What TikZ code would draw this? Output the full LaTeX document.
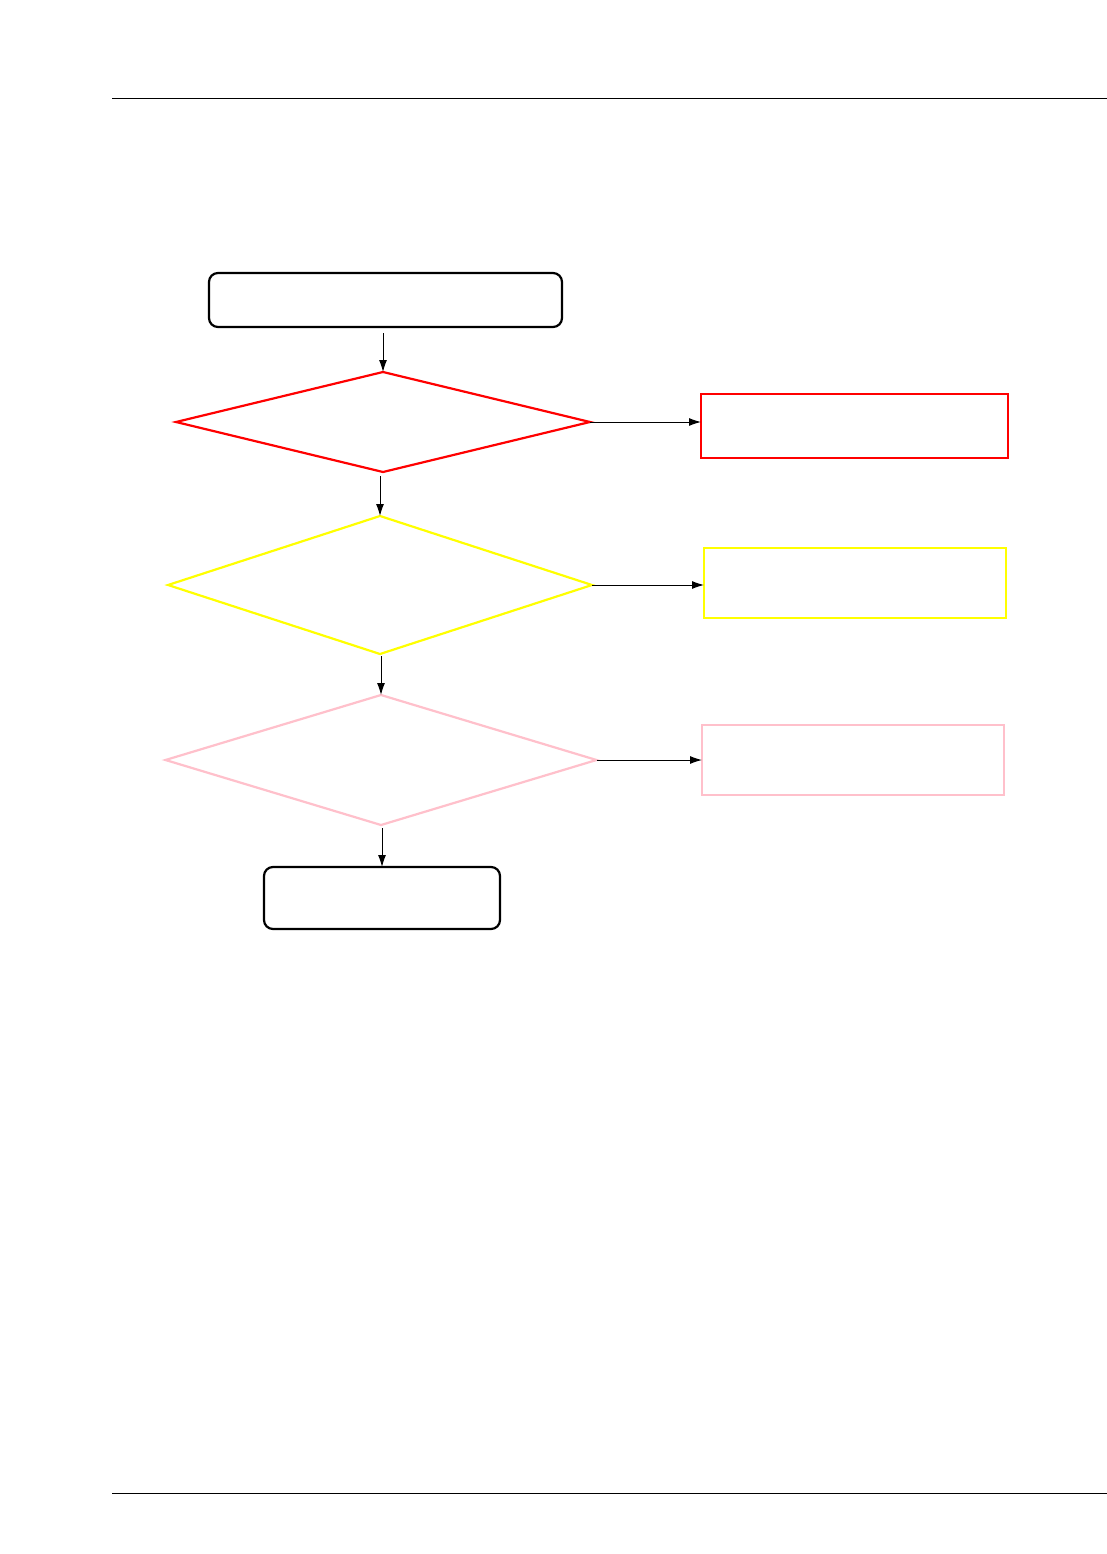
\documentclass[tikz,border=0pt]{standalone}
\usetikzlibrary{shapes.geometric,arrows.meta}
\definecolor{redline}{RGB}{255,0,0}
\definecolor{yellowline}{RGB}{255,255,0}
\definecolor{pinkline}{RGB}{255,192,203}
\begin{document}
\begin{tikzpicture}[x=1pt,y=-1pt,
  termbox/.style={draw=black,line width=2.2pt,rounded corners=9pt,inner sep=0pt,outer sep=0pt},
  decbox/.style={diamond,line width=2.2pt,inner sep=0pt,outer sep=0pt},
  outbox/.style={rectangle,line width=2.2pt,inner sep=0pt,outer sep=0pt},
  arr/.style={-{Latex[length=12pt,width=8pt]},line width=1pt,black},
  rule/.style={line width=1pt,black}]
\useasboundingbox[fill=white] (0,0) rectangle (1107,1554);
% header and footer rules
\coordinate (hl) at (112,99);
\coordinate (hr) at (1107,99);
\coordinate (fl) at (112,1493);
\coordinate (fr) at (1107,1493);
\draw[rule] (hl) -- (hr);
\draw[rule] (fl) -- (fr);
% nodes
\node[termbox,minimum width=353pt,minimum height=54pt] (start) at (385.5,300) {};
\node[decbox,draw=redline,minimum width=414pt,minimum height=100pt] (d1) at (383,422) {};
\node[decbox,draw=yellowline,minimum width=424pt,minimum height=138pt] (d2) at (380,585) {};
\node[decbox,draw=pinkline,minimum width=431pt,minimum height=130pt] (d3) at (381,760) {};
\node[termbox,minimum width=236pt,minimum height=62pt] (end) at (382,898) {};
\node[outbox,draw=redline,minimum width=307pt,minimum height=64pt] (o1) at (854.5,426) {};
\node[outbox,draw=yellowline,minimum width=302pt,minimum height=70pt] (o2) at (855,583) {};
\node[outbox,draw=pinkline,minimum width=302pt,minimum height=70pt] (o3) at (853,760) {};
% connectors
\draw[arr,shorten <=6pt] (d1.north |- start.south) -- (d1.north);
\draw[arr,shorten <=4pt] (d2.north |- d1.south) -- (d2.north);
\draw[arr,shorten <=2pt] (d3.north |- d2.south) -- (d3.north);
\draw[arr,shorten <=3pt] (end.north |- d3.south) -- (end.north);
\draw[arr] (d1.east) -- (d1.east -| o1.west);
\draw[arr] (d2.east) -- (d2.east -| o2.west);
\draw[arr] (d3.east) -- (d3.east -| o3.west);
\end{tikzpicture}
\end{document}
